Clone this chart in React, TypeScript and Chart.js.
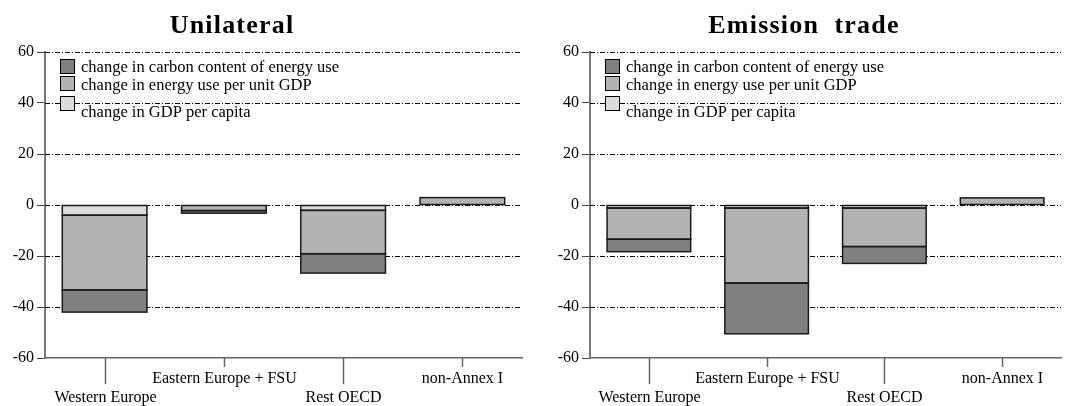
import { useEffect, useRef } from 'react';
import { Chart, registerables } from 'chart.js';

Chart.register(...registerables);

// Regions shown on the category axis
const categories = ['Western Europe', 'Eastern Europe + FSU', 'Rest OECD', 'non-Annex I'];

// Unilateral scenario: decomposition of emission change (%)
const unilateralCarbon = [-8.7, -1.0, -7.6, 0];
const unilateralEnergy = [-29.3, -2.2, -17.0, 2.9];
const unilateralGdp = [-4.0, 0, -2.1, 0];

// Emission trade scenario
const tradeCarbon = [-4.9, -19.9, -6.6, 0];
const tradeEnergy = [-12.2, -29.4, -15.1, 2.8];
const tradeGdp = [-1.2, -1.2, -1.2, 0];

const yMin = -60;
const yMax = 60;
const yStep = 20;

const legendLabels = [
  'change in carbon content of energy use',
  'change in energy use per unit GDP',
  'change in GDP per capita',
];

const COLOR_CARBON = '#808080';
const COLOR_ENERGY = '#b3b3b3';
const COLOR_GDP = '#dcdcdc';
const SERIF = "'Liberation Serif', 'Times New Roman', serif";

type PanelProps = {
  title: string;
  titleX: number;
  carbon: number[];
  energy: number[];
  gdp: number[];
  width: number;
  padLeft: number;
  padRight: number;
};

const toData = (arr: number[]) => arr.map((v) => (v === 0 ? null : v));

function Panel({ title, titleX, carbon, energy, gdp, width, padLeft, padRight }: PanelProps) {
  const ref = useRef<HTMLCanvasElement | null>(null);

  useEffect(() => {
    if (!ref.current) return;

    const decor = {
      id: 'decor',
      beforeDatasetsDraw(chart: any) {
        const { ctx, chartArea } = chart;
        const y = chart.scales.y;
        ctx.save();
        ctx.strokeStyle = '#000';
        ctx.lineWidth = 1;
        ctx.setLineDash([5, 2, 1, 2]);
        for (let v = yMax; v > yMin; v -= yStep) {
          const py = Math.round(y.getPixelForValue(v)) + 0.5;
          ctx.beginPath();
          ctx.moveTo(chartArea.left, py);
          ctx.lineTo(chartArea.right, py);
          ctx.stroke();
        }
        ctx.restore();
      },
      afterDatasetsDraw(chart: any) {
        const { ctx, chartArea } = chart;
        const x = chart.scales.x;
        const L = chartArea.left;
        ctx.save();

        // outline every stacked segment from the bar elements
        ctx.strokeStyle = '#1a1a1a';
        ctx.lineWidth = 1.5;
        chart.data.datasets.forEach((_: any, di: number) => {
          const meta = chart.getDatasetMeta(di);
          meta.data.forEach((bar: any, i: number) => {
            const v = chart.data.datasets[di].data[i];
            if (v === null || v === undefined) return;
            const p = bar.getProps(['x', 'y', 'base', 'width'], true);
            const left = p.x - p.width / 2;
            const top = Math.min(p.y, p.base);
            const h = Math.abs(p.base - p.y);
            ctx.strokeRect(left, top, p.width, h);
          });
        });

        // category tick marks and staggered labels
        ctx.strokeStyle = '#666';
        ctx.lineWidth = 1.5;
        ctx.fillStyle = '#000';
        ctx.font = `16px ${SERIF}`;
        ctx.textAlign = 'center';
        ctx.textBaseline = 'alphabetic';
        categories.forEach((c, i) => {
          const px = Math.round(x.getPixelForValue(i)) + 0.5;
          const low = i % 2 === 0;
          ctx.beginPath();
          ctx.moveTo(px, chartArea.bottom);
          ctx.lineTo(px, low ? 384 : 367);
          ctx.stroke();
          ctx.fillText(c, px, low ? 402 : 382.5);
        });

        // legend
        const boxTops = [59, 76, 96];
        const baselines = [72, 90, 117];
        const fills = [COLOR_CARBON, COLOR_ENERGY, COLOR_GDP];
        ctx.textAlign = 'left';
        ctx.font = `16.5px ${SERIF}`;
        ctx.lineWidth = 1;
        ctx.strokeStyle = '#000';
        legendLabels.forEach((lab, i) => {
          ctx.fillStyle = fills[i];
          ctx.fillRect(L + 15, boxTops[i], 15, 15);
          ctx.strokeRect(L + 15.5, boxTops[i] + 0.5, 14, 14);
          ctx.fillStyle = '#000';
          ctx.fillText(lab, L + 36, baselines[i]);
        });

        // panel title
        ctx.font = `bold 26px ${SERIF}`;
        ctx.textAlign = 'center';
        (ctx as any).letterSpacing = '1.2px';
        ctx.fillText(title, titleX, 33);
        ctx.restore();
      },
    };

    const barCommon = {
      borderWidth: 0,
      inflateAmount: 0,
      categoryPercentage: 1,
      barPercentage: 0.71,
    };

    const chart = new Chart(ref.current, {
      type: 'bar',
      data: {
        labels: categories,
        datasets: [
          { label: legendLabels[2], data: toData(gdp), backgroundColor: COLOR_GDP, ...barCommon },
          { label: legendLabels[1], data: toData(energy), backgroundColor: COLOR_ENERGY, ...barCommon },
          { label: legendLabels[0], data: toData(carbon), backgroundColor: COLOR_CARBON, ...barCommon },
        ],
      } as any,
      options: {
        animation: false,
        responsive: false,
        devicePixelRatio: 1,
        layout: { padding: { top: 52, left: padLeft, right: padRight, bottom: 0 } },
        plugins: {
          legend: { display: false },
          title: { display: false },
          tooltip: { enabled: false },
        },
        scales: {
          x: {
            stacked: true,
            offset: true,
            ticks: { display: false },
            grid: { display: true, drawOnChartArea: false, drawTicks: false },
            border: { display: true, color: '#666', width: 1.5 },
            afterFit: (s: any) => {
              s.height = 48;
            },
          },
          y: {
            stacked: true,
            min: yMin,
            max: yMax,
            ticks: {
              stepSize: yStep,
              color: '#000',
              font: { family: SERIF, size: 16 },
              padding: 3,
            },
            grid: {
              drawOnChartArea: false,
              drawTicks: true,
              tickLength: 8,
              tickColor: '#444',
              tickWidth: 1,
            },
            border: { display: true, color: '#777', width: 2 },
            afterFit: (s: any) => {
              s.width = 45;
            },
          },
        },
      } as any,
      plugins: [decor],
    });

    return () => chart.destroy();
  }, [title, titleX, carbon, energy, gdp, width, padLeft, padRight]);

  return <canvas ref={ref} width={width} height={406} style={{ display: 'block' }} />;
}

export default function App() {
  return (
    <div
      style={{
        position: 'absolute',
        left: 0,
        top: 0,
        width: 1067,
        height: 406,
        background: '#fff',
        display: 'flex',
      }}
    >
      <Panel
        title="Unilateral"
        titleX={232}
        carbon={unilateralCarbon}
        energy={unilateralEnergy}
        gdp={unilateralGdp}
        width={530}
        padLeft={0}
        padRight={8}
      />
      <Panel
        title="Emission  trade"
        titleX={274}
        carbon={tradeCarbon}
        energy={tradeEnergy}
        gdp={tradeGdp}
        width={537}
        padLeft={15}
        padRight={6}
      />
    </div>
  );
}
